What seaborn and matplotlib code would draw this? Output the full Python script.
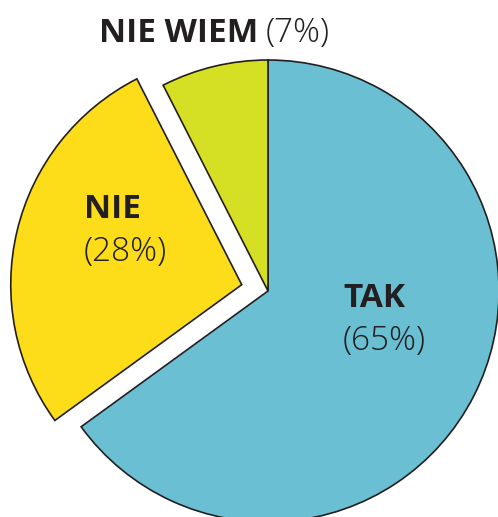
import matplotlib
matplotlib.use('Agg')
import matplotlib.pyplot as plt
import seaborn as sns

#----------------------------------------------------------------------------------------------------------------------#
# Data
#----------------------------------------------------------------------------------------------------------------------#

labels = ['TAK', 'NIE', 'NIE WIEM']
pct_labels = [65, 28, 7]          # printed percentages
shares = [65, 27.5, 7.5]          # wedge sizes as drawn in the picture
colors = ['#6ABFD2', '#FDDC1A', '#D5DF23']

#----------------------------------------------------------------------------------------------------------------------#
# Plot
#----------------------------------------------------------------------------------------------------------------------#

sns.set_theme(style='white')
plt.rcParams['font.family'] = ['Open Sans', 'DejaVu Sans']

W, H = 498, 517
fig = plt.figure(figsize=(W / 100, H / 100), dpi=100)
ax = fig.add_axes([0, 0, 1, 1])

# pie drawn in pixel-like data units (y up)
ax.pie(shares, colors=colors, startangle=90, counterclock=False,
       center=(268, H - 291), radius=231, explode=[0, 27, 0],
       wedgeprops=dict(edgecolor='#231F20', linewidth=1.2))
ax.set_xlim(0, W)
ax.set_ylim(0, H)
ax.set_aspect('equal')
ax.axis('off')

txt = '#231F20'
fs = 24
pct = [f'({v}%)' for v in pct_labels]

# NIE WIEM (top)
ax.text(258, H - 42, labels[2], ha='right', va='baseline', fontsize=fs, fontweight='bold', color=txt)
ax.text(266, H - 42, pct[2], ha='left', va='baseline', fontsize=fs, fontweight='light', color=txt)

# NIE
ax.text(84, H - 218, labels[1], ha='left', va='baseline', fontsize=fs, fontweight='bold', color=txt)
ax.text(84, H - 261, pct[1], ha='left', va='baseline', fontsize=fs, fontweight='light', color=txt)

# TAK
ax.text(343, H - 307, labels[0], ha='left', va='baseline', fontsize=fs, fontweight='bold', color=txt)
ax.text(343, H - 350, pct[0], ha='left', va='baseline', fontsize=fs, fontweight='light', color=txt)

fig.savefig('out.png', dpi=100)
